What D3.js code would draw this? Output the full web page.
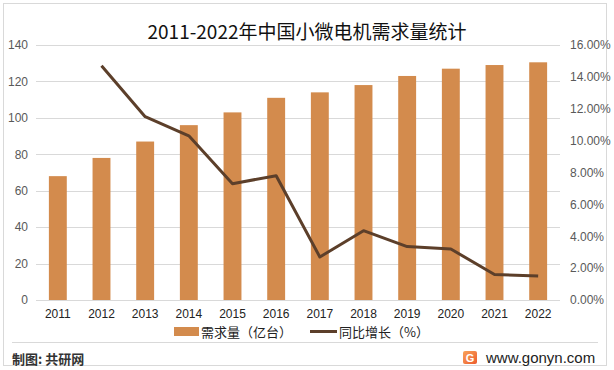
<!DOCTYPE html>
<meta charset="utf-8">
<script src="https://d3js.org/d3.v7.min.js"></script>
<style>
  body { margin: 0; background: #fff; }
  text { font-family: "Noto Sans CJK SC", "Noto Sans", sans-serif; }
</style>
<div id="chart"></div>
<script>
    // data
    const years = ["2011", "2012", "2013", "2014", "2015", "2016", "2017", "2018", "2019", "2020", "2021", "2022"];
    const demand = [68, 78, 87, 96, 103, 111, 114, 118, 123, 127, 129, 130.5];
    const growth = [null, 14.7, 11.5, 10.3, 7.3, 7.8, 2.7, 4.35, 3.35, 3.2, 1.6, 1.5];
    const leftTicks = [0, 20, 40, 60, 80, 100, 120, 140];
    const rightTicks = [0, 2, 4, 6, 8, 10, 12, 14, 16];

    const W = 614, H = 370;
    const margin = { top: 45, right: 54, bottom: 70, left: 36 };
    const width = W - margin.left - margin.right,
        height = H - margin.top - margin.bottom;

    const root = d3.select("#chart").append("svg")
        .attr("width", W)
        .attr("height", H);

    // outer frame
    root.append("rect")
        .attr("x", 3.5).attr("y", 3.5)
        .attr("width", 603).attr("height", 362)
        .attr("fill", "#fff")
        .attr("stroke", "#d9d9d9");

    // title
    root.append("text")
        .attr("x", 307).attr("y", 39)
        .attr("text-anchor", "middle")
        .attr("font-size", 19)
        .attr("fill", "#111")
        .text("2011-2022年中国小微电机需求量统计");

    const svg = root.append("g")
        .attr("transform", `translate(${margin.left}, ${margin.top})`);

    const x = d3.scaleBand().domain(years).range([0, width]).paddingInner(0.59).paddingOuter(0.295);
    const y = d3.scaleLinear().domain([0, 140]).range([height, 0]);
    const y2 = d3.scaleLinear().domain([0, 16]).range([height, 0]);

    // grid lines
    svg.append("g")
        .selectAll("line")
        .data(leftTicks)
        .join("line")
        .attr("x1", 0).attr("x2", width)
        .attr("y1", d => Math.round(y(d)) + 0.5)
        .attr("y2", d => Math.round(y(d)) + 0.5)
        .attr("stroke", "#d9d9d9");

    // left axis
    const yAxis = svg.append("g")
        .call(d3.axisLeft(y).tickValues(leftTicks).tickSize(0).tickPadding(8));
    yAxis.select(".domain").remove();
    yAxis.selectAll("text").attr("font-size", 12).attr("fill", "#595959")
        .style("font-family", "'Liberation Sans', 'Noto Sans', sans-serif");

    // right axis
    const y2Axis = svg.append("g")
        .attr("transform", `translate(${width}, 0)`)
        .call(d3.axisRight(y2).tickValues(rightTicks).tickSize(0).tickPadding(10)
            .tickFormat(d => d.toFixed(2) + "%"));
    y2Axis.select(".domain").remove();
    y2Axis.selectAll("text").attr("font-size", 12).attr("fill", "#595959")
        .style("font-family", "'Liberation Sans', 'Noto Sans', sans-serif");

    // x axis
    const xAxis = svg.append("g")
        .attr("transform", `translate(0, ${height})`)
        .call(d3.axisBottom(x).tickSize(0).tickPadding(9));
    xAxis.select(".domain").remove();
    xAxis.selectAll("text").attr("font-size", 12).attr("fill", "#222")
        .style("font-family", "'Liberation Sans', 'Noto Sans', sans-serif");

    // bars
    svg.append("g")
        .selectAll("rect")
        .data(years)
        .join("rect")
        .attr("x", d => x(d))
        .attr("width", x.bandwidth())
        .attr("y", (d, i) => y(demand[i]))
        .attr("height", (d, i) => height - y(demand[i]))
        .attr("fill", "#d38b4d");

    // growth line
    const line = d3.line()
        .defined(d => d.v != null)
        .x(d => x(d.year) + x.bandwidth() / 2)
        .y(d => y2(d.v));
    svg.append("path")
        .datum(years.map((yr, i) => ({ year: yr, v: growth[i] })))
        .attr("fill", "none")
        .attr("stroke", "#5c3f2a")
        .attr("stroke-width", 3)
        .attr("stroke-linejoin", "round")
        .attr("d", line);

    // legend
    const legend = root.append("g").attr("font-size", 13).attr("fill", "#222");
    legend.append("rect")
        .attr("x", 174).attr("y", 327).attr("width", 25).attr("height", 9)
        .attr("fill", "#d38b4d");
    legend.append("text").attr("x", 201).attr("y", 337).text("需求量（亿台）");
    legend.append("line")
        .attr("x1", 310).attr("x2", 337).attr("y1", 331.5).attr("y2", 331.5)
        .attr("stroke", "#5c3f2a").attr("stroke-width", 3);
    legend.append("text").attr("x", 339).attr("y", 337).text("同比增长（%）");

    // footer separator
    root.append("line")
        .attr("x1", 12).attr("x2", 598).attr("y1", 342.5).attr("y2", 342.5)
        .attr("stroke", "#d9d9d9");

    root.append("text")
        .attr("x", 12).attr("y", 364)
        .attr("font-size", 13)
        .attr("font-weight", "bold")
        .attr("fill", "#333")
        .text("制图: 共研网");

    // site logo
    const grad = root.append("defs").append("linearGradient")
        .attr("id", "logoGrad").attr("x1", 0).attr("y1", 0).attr("x2", 1).attr("y2", 1);
    grad.append("stop").attr("offset", 0).attr("stop-color", "#f9a35a");
    grad.append("stop").attr("offset", 1).attr("stop-color", "#ec5b2d");
    root.append("rect")
        .attr("x", 463).attr("y", 351).attr("width", 14).attr("height", 13).attr("rx", 2)
        .attr("fill", "url(#logoGrad)");
    root.append("text")
        .attr("x", 470).attr("y", 362)
        .attr("text-anchor", "middle")
        .attr("font-size", 11).attr("font-weight", "bold")
        .attr("fill", "#fff")
        .style("font-family", "'Liberation Sans', sans-serif")
        .text("G");
    root.append("text")
        .attr("x", 486).attr("y", 363)
        .attr("font-size", 15)
        .attr("fill", "#222")
        .style("font-family", "'Liberation Sans', 'Noto Sans', sans-serif")
        .text("www.gonyn.com");
</script>
